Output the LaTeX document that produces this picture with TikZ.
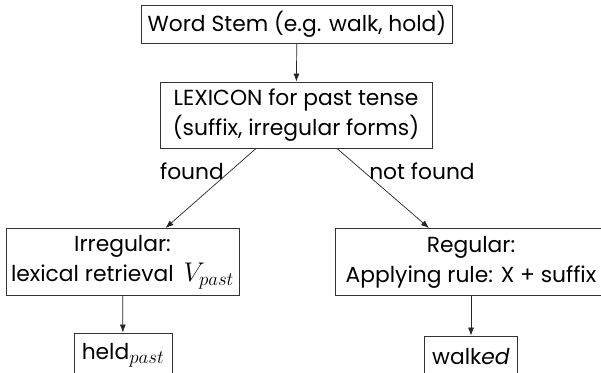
\RequirePackage{fix-cm}
\documentclass[tikz,border=0pt]{standalone}
\usepackage{fontspec}
\setmainfont{Poppins}
\usetikzlibrary{arrows.meta}
% math set a little larger than the surrounding text
\newcommand{\bigmath}[1]{{\fontsize{27}{30}\selectfont$#1$}}
\begin{document}
\begin{tikzpicture}[x=1pt, y=-1pt,
  box/.style={draw=black!80, line width=0.9pt, align=center, inner sep=0pt,
              font=\fontsize{21.8}{30}\selectfont},
  link/.style={draw=black!85, line width=0.7pt, -{Latex[length=8pt,width=6pt]}},
  lbl/.style={font=\fontsize{21.8}{26}\selectfont, inner sep=0pt}]
\useasboundingbox (0,0) rectangle (601,372);

% decision chain
\node[box, minimum width=311pt, minimum height=38pt] (stem) at (297,24)
  {Word Stem (e.g. walk, hold)};
\node[box, minimum width=272pt, minimum height=66pt] (lex) at (296,115)
  {LEXICON for past tense\\(suffix, irregular forms)};
\node[box, minimum width=233pt, minimum height=67pt] (irr) at (122.5,262)
  {Irregular:\\lexical retrieval\hspace{0.45em}\bigmath{V_{past}}};
\node[box, minimum width=272pt, minimum height=67pt] (reg) at (471,262)
  {Regular:\\Applying rule: X + suffix};
\node[box, minimum width=98pt, minimum height=44pt] (held) at (123,355)
  {held\bigmath{{}_{past}}};
\node[box, minimum width=93pt, minimum height=42pt] (walked) at (471,357)
  {walk\textit{ed}};

% connectors
\draw[link] (stem) -- (lex);
\draw[link] ([xshift=-40pt]lex.south) -- ([xshift=43pt]irr.north);
\draw[link] ([xshift=41pt]lex.south) -- ([xshift=-42pt]reg.north);
\draw[link] (irr) -- (held);
\draw[link] (reg) -- (walked);

% branch labels
\node[lbl] (fnd) at (192,171) {found};
\node[lbl] (nfnd) at (422,171) {not found};
\end{tikzpicture}
\end{document}
